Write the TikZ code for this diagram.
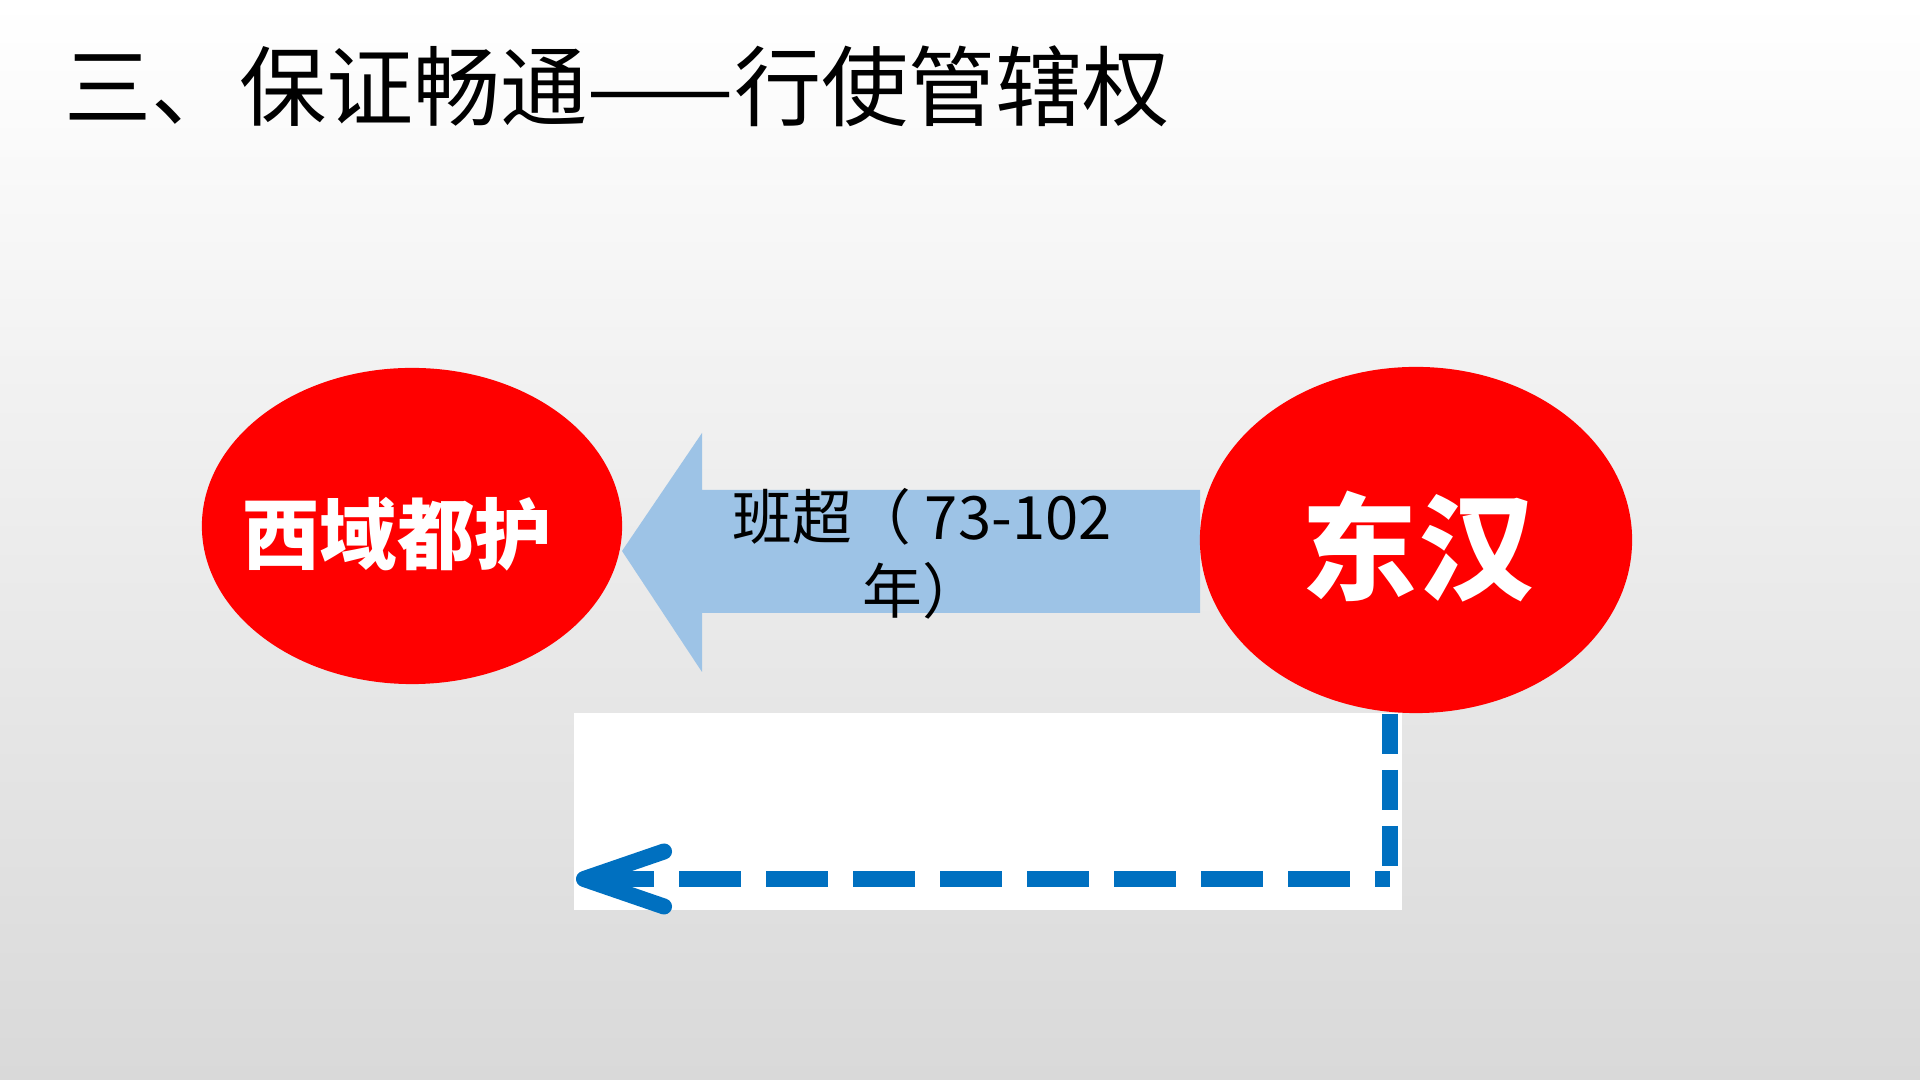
\documentclass[tikz,border=0pt]{standalone}
\usepackage{fontspec}
\newfontfamily\cjk{Noto Sans CJK SC}
\usetikzlibrary{shapes.geometric, arrows.meta, positioning}
\definecolor{bgtop}{RGB}{255,255,255}
\definecolor{bgbottom}{RGB}{217,217,217}
\definecolor{regionred}{RGB}{255,0,0}
\definecolor{routeblue}{RGB}{157,195,230}
\definecolor{dashblue}{RGB}{0,112,192}
\tikzstyle{region} = [ellipse, fill=regionred, draw=none, inner sep=0pt]
\tikzstyle{regiontext} = [text=white, inner sep=0pt]
\tikzstyle{dashline} = [line width=1.6mm, dashblue]
\tikzstyle{dasharrow} = [dashline, dash pattern=on 6.2mm off 2.5mm, {Straight Barb[length=8mm, width=5.5mm, line cap=round, line join=round]}-]

\begin{document}
\begin{tikzpicture}[x=0.01cm, y=-0.01cm]

% Background
\shade[top color=bgtop, bottom color=bgbottom] (0,0) rectangle (1920,1080);

% Title
\node[font=\cjk\fontsize{24.8}{29}\selectfont, anchor=west, inner sep=0pt] (title) at (64,86) {三、保证畅通——行使管辖权};

% Route of Ban Chao
\fill[routeblue] (1200,490) -- (702,490) -- (702,433) -- (622,551) -- (702,672) -- (702,613) -- (1200,613) -- cycle;
\node[font=\cjk\fontsize{17}{21}\selectfont, align=center] (banchao) at (922,554) {班超（ 73-102\\年）};

% White panel
\fill[white] (574,713) rectangle (1402,910);

% Regions
\node[region, minimum width=4.2cm, minimum height=3.16cm] (xiyu) at (412,526) {};
\node[region, minimum width=4.32cm, minimum height=3.46cm] (donghan) at (1416,540) {};
\node[regiontext, font=\cjk\bfseries\fontsize{22}{26}\selectfont] (xiyutext) at (397,534) {西域都护};
\node[regiontext, font=\cjk\bfseries\fontsize{33}{38}\selectfont] (donghantext) at (1418,547) {东汉};

% Dashed return
\coordinate (corner) at (1390,879);
\coordinate (westend) at (576,879);
\draw[dashline, dash pattern=on 4mm off 1.6mm] (donghan.south -| corner) -- (corner);
\draw[dasharrow] (westend) -- (corner);

\end{tikzpicture}
\end{document}
